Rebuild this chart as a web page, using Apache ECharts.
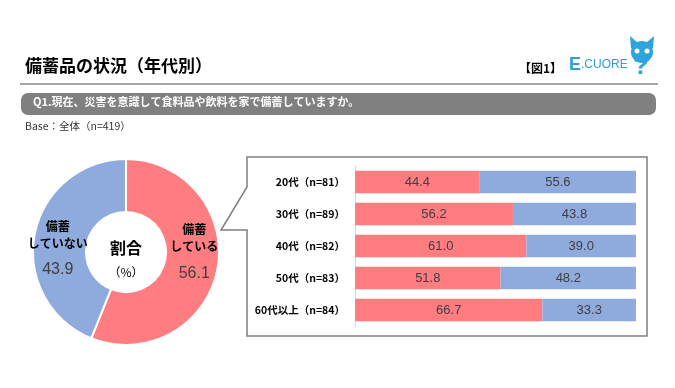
<!DOCTYPE html>
<html><head><meta charset="utf-8">
<script src="https://cdn.jsdelivr.net/npm/echarts@6/dist/echarts.min.js"></script>
<style>html,body{margin:0;padding:0;background:#fff}#c{width:675px;height:388px}</style>
</head><body><div id="c"></div>
<script>
const pieNames = ['備蓄している', '備蓄していない'];
const pieValues = [56.1, 43.9];
const categories = ['20代（n=81）', '30代（n=89）', '40代（n=82）', '50代（n=83）', '60代以上（n=84）'];
const stockYes = [44.4, 56.2, 61.0, 51.8, 66.7];
const stockNo = [55.6, 43.8, 39.0, 48.2, 33.3];

const JP = "'Noto Sans CJK JP', sans-serif";
const NUM = "'Liberation Sans', Arial, sans-serif";
const RED = '#ff7c80', BLUE = '#8faadc';

const chart = echarts.init(document.getElementById('c'));
chart.setOption({
  animation: false,
  backgroundColor: '#fff',
  graphic: [
    { type: 'text', left: 25, top: 57, style: { text: '備蓄品の状況（年代別）', font: 'bold 17px ' + JP, fill: '#000' } },
    { type: 'text', left: 519, top: 62, style: { text: '【図1】', font: 'bold 12px ' + JP, fill: '#000' } },
    { type: 'text', left: 569, top: 56, style: { text: '{e|E}{d|.CUORE}', rich: { e: { font: 'bold 18px ' + NUM, fill: '#2c9ed8' }, d: { font: '12px ' + NUM, fill: '#2c9ed8' } } } },
    { type: 'polygon', shape: { points: [[631,48],[630,36],[638,43],[646,43],[654,36],[653,48]] }, style: { fill: '#2ea3dc' } },
    { type: 'circle', shape: { cx: 642, cy: 52, r: 11 }, style: { fill: '#2ea3dc' } },
    { type: 'circle', shape: { cx: 637, cy: 51, r: 2.5 }, style: { fill: '#fff' } },
    { type: 'circle', shape: { cx: 647, cy: 51, r: 2.5 }, style: { fill: '#fff' } },
    { type: 'text', left: 633, top: 54, style: { text: '?', font: 'bold 26px ' + NUM, fill: '#2ea3dc' } },
    { type: 'line', shape: { x1: 20, y1: 84, x2: 658, y2: 84 }, style: { stroke: '#a6a6a6', lineWidth: 2 } },
    { type: 'rect', shape: { x: 21, y: 93, width: 635, height: 22, r: 7 }, style: { fill: '#808080' } },
    { type: 'text', left: 33, top: 96, style: { text: 'Q1.現在、災害を意識して食料品や飲料を家で備蓄していますか。', font: 'bold 11px ' + JP, fill: '#fff' } },
    { type: 'text', left: 25, top: 121, style: { text: 'Base：全体（n=419）', font: '10.5px ' + JP, fill: '#333' } },
    { type: 'polygon', z: -1, shape: { points: [[247,157],[647,157],[647,336],[247,336],[247,230],[221,230],[247,187]] }, style: { fill: '#fff', stroke: '#7f7f7f', lineWidth: 1.5 } },
    { type: 'text', z: 10, style: { text: '割合', x: 126, y: 248, align: 'center', verticalAlign: 'middle', font: 'bold 16px ' + JP, fill: '#000' } },
    { type: 'text', z: 10, style: { text: '（%）', x: 126, y: 272, align: 'center', verticalAlign: 'middle', font: '12px ' + JP, fill: '#000' } }
  ],
  grid: { left: 355, top: 166, width: 281, height: 160 },
  xAxis: { type: 'value', min: 0, max: 100, show: false },
  yAxis: {
    type: 'category', data: categories, inverse: true,
    axisLine: { show: true, lineStyle: { color: '#d9d9d9', width: 1 } },
    axisTick: { show: false },
    axisLabel: { margin: 10, color: '#000', fontWeight: 'bold', fontSize: 10.5, fontFamily: JP }
  },
  series: [
    {
      type: 'pie', center: [126, 252], radius: [40, 93], startAngle: 90, clockwise: true,
      data: pieNames.map((n, i) => ({ name: n, value: pieValues[i], itemStyle: { color: i === 0 ? RED : BLUE } })),
      itemStyle: { borderColor: '#fff', borderWidth: 2 },
      label: {
        position: 'inside', formatter: p => '{a|' + p.name.slice(0, 2) + '}\n{a|' + p.name.slice(2) + '}\n{v|' + p.value.toFixed(1) + '}',
        rich: {
          a: { fontFamily: JP, fontWeight: 'bold', fontSize: 12, lineHeight: 17, color: '#000', align: 'center' },
          v: { fontFamily: NUM, fontSize: 16, lineHeight: 36, color: '#404040', align: 'center' }
        }
      },
      labelLine: { show: false },
      labelLayout: p => ({ dy: p.dataIndex === 0 ? -9 : 14 }),
      emphasis: { disabled: true }
    },
    {
      type: 'bar', stack: 'a', data: stockYes, barCategoryGap: '30%', itemStyle: { color: RED },
      label: { show: true, position: 'inside', formatter: p => p.value.toFixed(1), fontFamily: NUM, fontSize: 13, color: '#404040' }
    },
    {
      type: 'bar', stack: 'a', data: stockNo, itemStyle: { color: BLUE },
      label: { show: true, position: 'inside', formatter: p => p.value.toFixed(1), fontFamily: NUM, fontSize: 13, color: '#404040' }
    }
  ]
});
</script></body></html>
